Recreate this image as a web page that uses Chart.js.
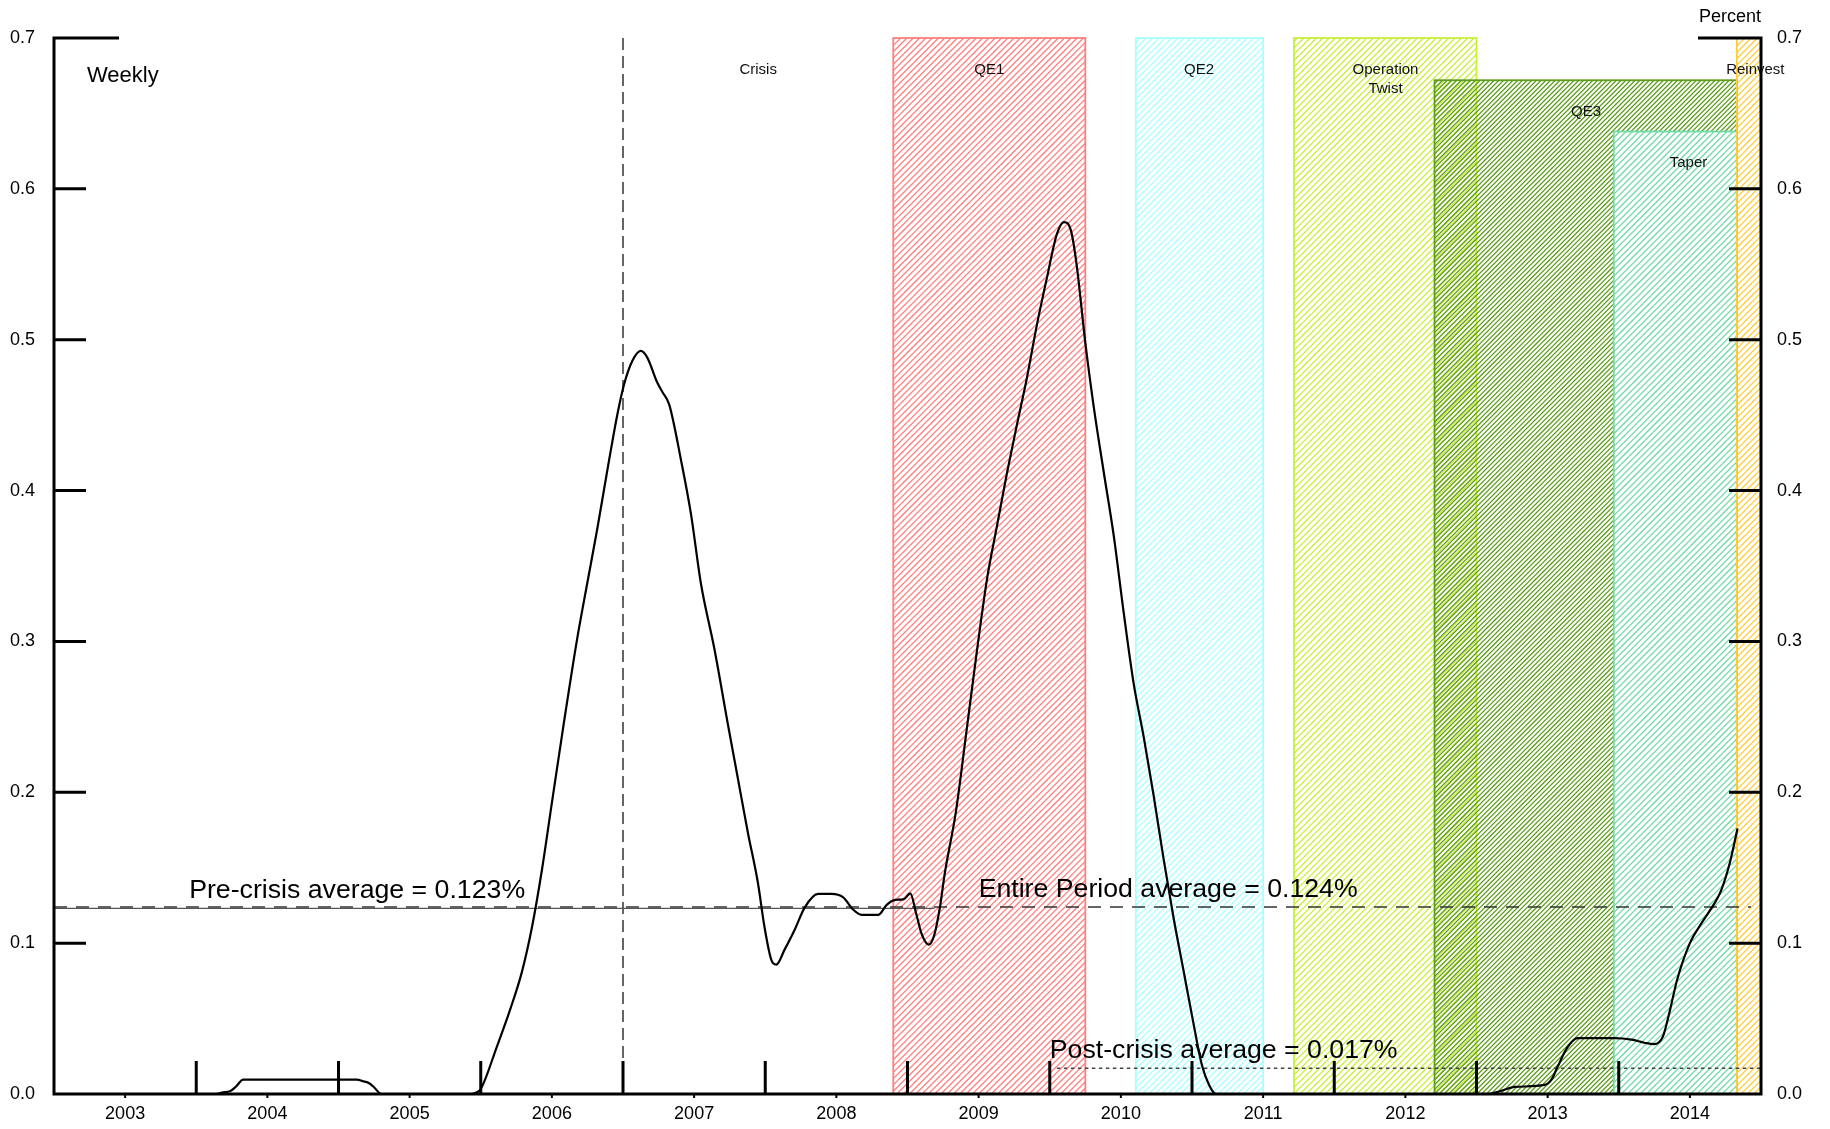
<!DOCTYPE html>
<html lang="en">
<head>
    <meta charset="UTF-8">
    <title>Weekly series with QE periods</title>
    <style>
        html, body { margin: 0; padding: 0; background: #fff; }
        #chart { display: block; }
    </style>
</head>
<body>
    <canvas id="chart" width="1830" height="1129"></canvas>

    <script src="https://cdn.jsdelivr.net/npm/chart.js"></script>
    <script>
        // x axis labels sit mid-year, tall ticks on Jan 1
        const yearLabels = ['2003', '2004', '2005', '2006', '2007', '2008', '2009', '2010', '2011', '2012', '2013', '2014'];
        const labelYears = [2003.5, 2004.5, 2005.5, 2006.5, 2007.5, 2008.5, 2009.5, 2010.5, 2011.5, 2012.5, 2013.5, 2014.5];
        const yearTicks = [2004, 2005, 2006, 2007, 2008, 2009, 2010, 2011, 2012, 2013, 2014];
        const yTicks = [0.0, 0.1, 0.2, 0.3, 0.4, 0.5, 0.6, 0.7];

        // weekly series (decimal year, percent)
        const seriesYears = [
            2003.00, 2004.14, 2004.18, 2004.24, 2004.28, 2004.33, 2005.13, 2005.17, 2005.21, 2005.25, 2005.30,
            2005.93, 2005.97, 2006.00, 2006.113, 2006.207, 2006.289, 2006.36, 2006.43, 2006.50, 2006.584,
            2006.678, 2006.748, 2006.819, 2006.90, 2006.96, 2007.007, 2007.066, 2007.125, 2007.17, 2007.24,
            2007.278, 2007.325, 2007.407, 2007.478, 2007.548, 2007.642, 2007.736, 2007.807, 2007.878, 2007.948,
            2007.995, 2008.042, 2008.078, 2008.136, 2008.207, 2008.278, 2008.372, 2008.466, 2008.548, 2008.619,
            2008.678, 2008.795, 2008.854, 2008.913, 2008.972, 2009.02, 2009.06, 2009.10, 2009.15, 2009.19,
            2009.23, 2009.26, 2009.34, 2009.41, 2009.48, 2009.56, 2009.63, 2009.70, 2009.77, 2009.84,
            2009.91, 2009.98, 2010.05, 2010.10, 2010.15, 2010.19, 2010.25, 2010.31, 2010.38, 2010.45,
            2010.52, 2010.59, 2010.66, 2010.73, 2010.80, 2010.87, 2010.94, 2011.01, 2011.07, 2011.12,
            2011.17, 2013.08, 2013.17, 2013.27, 2013.48, 2013.53, 2013.57, 2013.64, 2013.71, 2013.97,
            2014.09, 2014.18, 2014.25, 2014.31, 2014.355, 2014.41, 2014.50, 2014.58, 2014.68, 2014.72,
            2014.78, 2014.835
        ];
        const seriesValues = [
            0.000, 0.000, 0.001, 0.002, 0.005, 0.0095, 0.0095, 0.0085, 0.0075, 0.0045, 0.000,
            0.000, 0.001, 0.0033, 0.0313, 0.0561, 0.0808, 0.1105, 0.1485, 0.193, 0.2458,
            0.3019, 0.3382, 0.3745, 0.419, 0.4503, 0.4701, 0.486, 0.4926, 0.4883, 0.4718,
            0.4652, 0.457, 0.4206, 0.3844, 0.3382, 0.2953, 0.2458, 0.2095, 0.1732, 0.1402,
            0.1105, 0.0891, 0.0858, 0.0957, 0.1089, 0.1237, 0.1326, 0.1326, 0.1303, 0.1221,
            0.1188, 0.1188, 0.1254, 0.1287, 0.1290, 0.133, 0.120, 0.106, 0.099, 0.106,
            0.125, 0.145, 0.187, 0.237, 0.288, 0.342, 0.377, 0.412, 0.444, 0.475,
            0.510, 0.541, 0.570, 0.578, 0.572, 0.549, 0.498, 0.455, 0.412, 0.370,
            0.319, 0.272, 0.237, 0.198, 0.156, 0.117, 0.082, 0.047, 0.019, 0.006,
            0.000, 0.000, 0.002, 0.0047, 0.006, 0.010, 0.018, 0.031, 0.037, 0.037,
            0.036, 0.034, 0.033, 0.038, 0.0535, 0.0756, 0.100, 0.113, 0.1275, 0.135,
            0.153, 0.176
        ];

        // averages
        const avgNames = ['Pre-crisis average = 0.123%', 'Entire Period average = 0.124%', 'Post-crisis average = 0.017%'];
        const avgValues = [0.123, 0.124, 0.017];
        const avgFrom = [2003.0, 2003.0, 2010.05];
        const avgTo = [2009.19, 2014.93, 2015.0];
        const avgTextYear = [2003.95, 2009.50, 2010.00];

        // crisis marker and policy periods
        const crisisYear = 2007.0;
        const periodNames = ['QE1', 'QE2', 'Operation Twist', 'QE3', 'Taper', 'Reinvest'];
        const periodStart = [2008.90, 2010.605, 2011.717, 2012.705, 2013.965, 2014.83];
        const periodEnd = [2010.25, 2011.50, 2013.00, 2014.83, 2014.83, 2015.0];
        const periodTop = [0.7, 0.7, 0.7, 0.672, 0.638, 0.7];
        const periodColors = ['#ff7f7f', '#a8ffff', '#c8f03a', '#5e9c1e', '#72d9a8', '#ffcc3a'];

        const boxLabels = [['Crisis'], ['QE1'], ['QE2'], ['Operation', 'Twist'], ['QE3'], ['Taper'], ['Reinvest']];
        const boxLabelYear = [2007.95, 2009.575, 2011.05, 2012.36, 2013.77, 2014.49, 2014.96];
        const boxLabelValue = [0.679, 0.679, 0.679, 0.679, 0.651, 0.617, 0.679];

        const FONT = '"Liberation Sans", Arial, Helvetica, sans-serif';

        function hatchBox(ctx, x0, y0, x1, y1, color, gap, whiteBg) {
            ctx.save();
            ctx.beginPath();
            ctx.rect(x0, y0, x1 - x0, y1 - y0);
            ctx.clip();
            if (whiteBg) {
                ctx.fillStyle = '#fff';
                ctx.fillRect(x0, y0, x1 - x0, y1 - y0);
            }
            ctx.strokeStyle = color;
            ctx.lineWidth = 1.3;
            ctx.beginPath();
            // lines of constant x + y, so phase is shared between boxes
            const kStart = Math.floor((x0 + y0) / gap) - 1;
            const kEnd = Math.ceil((x1 + y1) / gap) + 1;
            for (let k = kStart; k <= kEnd; k++) {
                const c = k * gap;
                ctx.moveTo(c - y1, y1);
                ctx.lineTo(c - y0, y0);
            }
            ctx.stroke();
            ctx.restore();
            ctx.save();
            ctx.strokeStyle = color;
            ctx.lineWidth = 1.8;
            ctx.strokeRect(x0, y0, x1 - x0, y1 - y0);
            ctx.restore();
        }

        const overlay = {
            id: 'overlay',
            beforeDatasetsDraw(chart) {
                const ctx = chart.ctx;
                const x = chart.scales.x, y = chart.scales.y;
                periodNames.forEach((name, i) => {
                    const x0 = x.getPixelForValue(periodStart[i]);
                    const x1 = x.getPixelForValue(periodEnd[i]);
                    const y0 = y.getPixelForValue(periodTop[i]);
                    const y1 = y.getPixelForValue(0);
                    const gap = name === 'QE3' ? 4.7 : 6.3;
                    hatchBox(ctx, x0, y0, x1, y1, periodColors[i], gap, name === 'Taper');
                });
            },
            afterDatasetsDraw(chart) {
                const ctx = chart.ctx;
                const x = chart.scales.x, y = chart.scales.y;
                const area = chart.chartArea;
                const left = area.left, right = area.right;
                const top = y.getPixelForValue(0.7), bottom = y.getPixelForValue(0);

                ctx.save();
                // period labels
                ctx.fillStyle = '#111';
                ctx.font = '15px ' + FONT;
                ctx.textAlign = 'center';
                ctx.textBaseline = 'middle';
                boxLabels.forEach((lines, i) => {
                    const cx = x.getPixelForValue(boxLabelYear[i]);
                    const cy = y.getPixelForValue(boxLabelValue[i]);
                    lines.forEach((t, j) => ctx.fillText(t, cx, cy + j * 19));
                });

                // average labels
                ctx.font = '26.7px ' + FONT;
                ctx.textAlign = 'left';
                ctx.textBaseline = 'alphabetic';
                ctx.fillStyle = '#000';
                avgNames.forEach((t, i) => {
                    ctx.fillText(t, x.getPixelForValue(avgTextYear[i]), y.getPixelForValue(avgValues[i]) - 10);
                });

                // corner texts
                ctx.font = '22px ' + FONT;
                ctx.fillText('Weekly', 87, 82);
                ctx.font = '18px ' + FONT;
                ctx.textAlign = 'right';
                ctx.fillText('Percent', right, 22);

                // axes
                ctx.strokeStyle = '#000';
                ctx.lineWidth = 3;
                ctx.lineCap = 'butt';
                ctx.beginPath();
                ctx.moveTo(left, top - 1.5); ctx.lineTo(left, bottom);
                ctx.moveTo(right, top - 1.5); ctx.lineTo(right, bottom);
                ctx.moveTo(left - 1.5, bottom); ctx.lineTo(right + 1.5, bottom);
                // inward y ticks
                yTicks.forEach(v => {
                    if (v === 0) return;
                    const py = y.getPixelForValue(v);
                    const lenL = v === 0.7 ? 65 : 32;
                    const lenR = v === 0.7 ? 63 : 32;
                    ctx.moveTo(left, py); ctx.lineTo(left + lenL, py);
                    ctx.moveTo(right, py); ctx.lineTo(right - lenR, py);
                });
                // tall year ticks
                yearTicks.forEach(v => {
                    const px = x.getPixelForValue(v);
                    ctx.moveTo(px, bottom); ctx.lineTo(px, bottom - 33);
                });
                ctx.stroke();
                // small ticks under the axis at the labels
                ctx.lineWidth = 2;
                ctx.beginPath();
                labelYears.forEach(v => {
                    const px = x.getPixelForValue(v);
                    ctx.moveTo(px, bottom); ctx.lineTo(px, bottom + 4);
                });
                ctx.stroke();
                ctx.restore();
            }
        };

        const axisFont = { family: FONT, size: 18 };

        const data = {
            datasets: [
                {
                    label: 'Weekly',
                    data: seriesYears.map((yr, i) => ({ x: yr, y: seriesValues[i] })),
                    borderColor: '#000',
                    borderWidth: 2.2,
                    pointRadius: 0,
                    cubicInterpolationMode: 'monotone',
                    fill: false
                },
                {
                    label: 'Pre-crisis',
                    data: [{ x: avgFrom[0], y: avgValues[0] }, { x: avgTo[0], y: avgValues[0] }],
                    borderColor: '#555',
                    borderWidth: 1.3,
                    pointRadius: 0
                },
                {
                    label: 'Entire period',
                    data: [{ x: avgFrom[1], y: avgValues[1] }, { x: avgTo[1], y: avgValues[1] }],
                    borderColor: '#333',
                    borderWidth: 1.5,
                    borderDash: [13, 9],
                    pointRadius: 0
                },
                {
                    label: 'Post-crisis',
                    data: [{ x: avgFrom[2], y: avgValues[2] }, { x: avgTo[2], y: avgValues[2] }],
                    borderColor: '#444',
                    borderWidth: 1.5,
                    borderDash: [3.5, 3.5],
                    pointRadius: 0
                },
                {
                    label: 'Crisis',
                    data: [{ x: crisisYear, y: 0 }, { x: crisisYear, y: 0.7 }],
                    borderColor: '#333',
                    borderWidth: 1.5,
                    borderDash: [12, 6],
                    pointRadius: 0
                }
            ]
        };

        const config = {
            type: 'line',
            data,
            options: {
                responsive: false,
                animation: false,
                layout: { padding: { top: 38, left: 0, right: 0, bottom: 0 } },
                plugins: { legend: { display: false }, tooltip: { enabled: false } },
                scales: {
                    x: {
                        type: 'linear',
                        min: 2003,
                        max: 2015,
                        grid: { display: false, drawTicks: false },
                        border: { display: false },
                        afterBuildTicks: scale => { scale.ticks = labelYears.map(v => ({ value: v })); },
                        afterFit: scale => { scale.height = 35; },
                        ticks: {
                            autoSkip: false,
                            maxRotation: 0,
                            padding: 9,
                            color: '#000',
                            font: axisFont,
                            callback: (value, index) => yearLabels[index]
                        }
                    },
                    y: {
                        position: 'left',
                        min: 0,
                        max: 0.7,
                        grid: { display: false, drawTicks: false },
                        border: { display: false },
                        afterBuildTicks: scale => { scale.ticks = yTicks.map(v => ({ value: v })); },
                        afterFit: scale => { scale.width = 54; },
                        ticks: { padding: 19, color: '#000', font: axisFont, callback: v => v.toFixed(1) }
                    },
                    y2: {
                        position: 'right',
                        min: 0,
                        max: 0.7,
                        grid: { display: false, drawTicks: false },
                        border: { display: false },
                        afterBuildTicks: scale => { scale.ticks = yTicks.map(v => ({ value: v })); },
                        afterFit: scale => { scale.width = 69; },
                        ticks: { padding: 16, color: '#000', font: axisFont, callback: v => v.toFixed(1) }
                    }
                }
            },
            plugins: [overlay]
        };

        new Chart(document.getElementById('chart').getContext('2d'), config);
    </script>
</body>
</html>
